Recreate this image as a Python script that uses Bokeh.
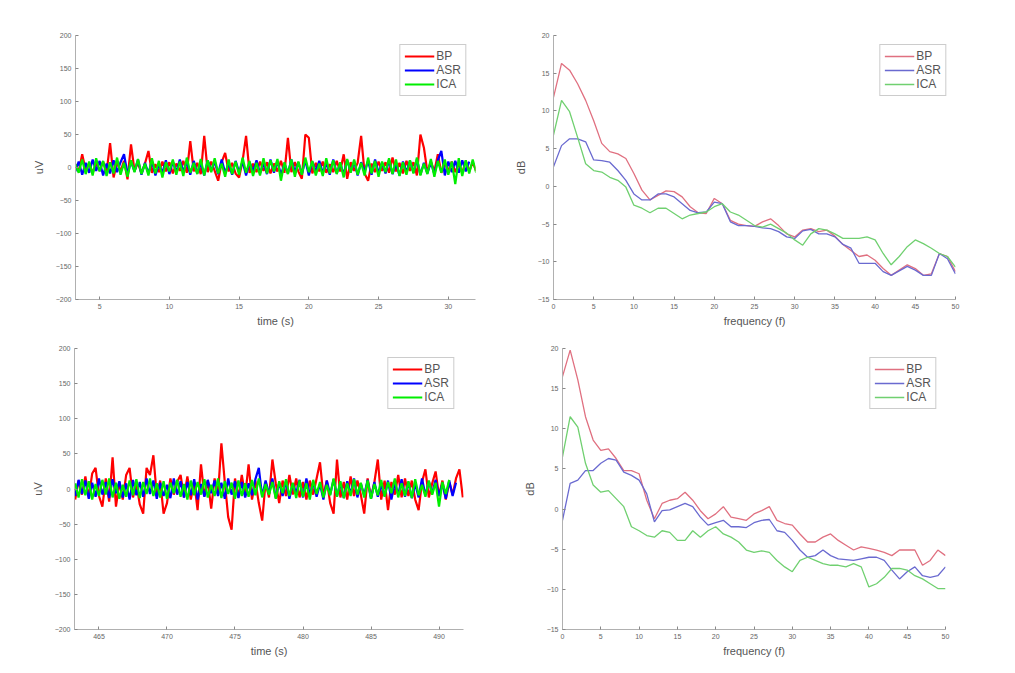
import numpy as np
from bokeh.plotting import figure
from bokeh.layouts import column, row
from bokeh.models import FixedTicker, Range1d, Legend, LegendItem
from bokeh.embed import file_html
from bokeh.resources import INLINE

# ---------------- data ----------------
series_names = ["BP", "ASR", "ICA"]

# top-left time series (uV), sampled every 0.25 s starting at 3.25 s
t1_start = 3.25
t1_step = 0.25
bp_t1 = [5, -6, 20, -4, 7, -8, 6, -5, 9, -7, 37, -15, 8, -6, 10, -18, 35, -5, 7, -9,
         6, 25, -8, 5, -7, 9, -6, 8, -9, 6, -5, 10, -8, 40, -6, 7, -10, 48, -7, 9,
         -5, -20, 8, 22, -6, 7, -9, -15, 10, 48, -8, 6, -7, 9, -5, 8, -9, 6, -6, 10,
         -8, 45, -7, 8, -6, -17, 50, 45, -9, 7, -6, 9, -8, 5, -7, 10, -6, 20, -17, 8,
         -5, 7, 48, -9, -20, 6, -7, 9, -5, 8, -8, 15, -6, 7, -9, 10, -5, 8, -12, 50,
         30, -7, 9, -6, 20, -8, 7, -5, 9, -7, 6, -8, 10, -6, 8, -5]
asr_t1 = [-6, 9, -11, 7, -8, 12, -5, 10, -12, 6, -9, 11, -7, 8, 20, -10, 9, -6, 12, -11,
          7, -9, 10, -12, 5, -8, 11, -10, 9, -7, 12, -6, 8, -11, 10, -9, 7, -12, 11, -5,
          9, -10, 12, -8, 6, -11, 10, -7, 9, -12, 8, -6, 11, -9, 7, -10, 12, -8, 10, -11,
          6, -9, 12, -7, 8, -10, 11, -12, 9, -6, 10, -8, 7, -11, 12, -9, 6, -10, 11, -7,
          9, -12, 8, -6, 10, -11, 12, -8, 7, -9, 11, -10, 6, -12, 9, -7, 10, -8, 12, -11,
          7, -9, 8, -10, 11, 25, -12, 9, -7, 10, -8, 11, -6, 9]
ica_t1 = [5, -8, 12, -10, 9, -12, 14, -6, 10, -13, 8, -9, 15, -11, 7, -14, 11, -7, 13, -10,
          6, -12, 14, -9, 10, -15, 8, -6, 12, -11, 9, -13, 15, -8, 7, -10, 13, -12, 11, -7,
          14, -9, 6, -14, 12, -10, 9, -11, 15, -8, 10, -13, 7, -12, 14, -9, 11, -6, 13, -20,
          8, -10, 12, -14, 9, -11, 15, -7, 10, -12, 6, -13, 14, -9, 11, -10, 8, -15, 13, -8,
          12, -11, 7, -12, 15, -9, 10, -14, 9, -7, 14, -10, 12, -13, 8, -11, 11, -9, 15, -12,
          6, -10, 13, -14, 10, -8, 12, -11, 9, -25, 14, -13, 11, -9, 12, -8]

# bottom-left time series (uV), sampled every 0.25 s starting at 463.25 s
t2_start = 463.25
t2_step = 0.25
bp_t2 = [-15, 12, -8, 18, -12, 22, 30, -10, -25, 15, -18, 45, -25, 10, -15, 20, 30, -12, 8, -22,
         -35, 30, 20, 48, -10, 12, -35, -20, 15, -8, 10, 20, -12, 18, -15, 10, -30, 35, -10, 12,
         -28, 15, -8, 65, 10, -40, -58, 15, -12, 20, -10, 35, -15, 12, -20, -45, 10, -12, 42, 8,
         -20, 12, -10, 20, -8, 15, -12, 10, -15, 12, -8, 15, 38, -10, 12, -20, -35, 42, -12, 10,
         -15, 18, -10, 12, -8, -35, 15, -12, 10, 42, -15, 12, -30, 10, -8, 20, -12, 15, -10, 12,
         -15, -30, 10, 28, -12, 8, 25, -10, 12, -15, 10, -8, 15, 28, -12]
asr_t2 = [-10, 13, -7, 12, -14, 9, -11, 15, -8, 10, -13, 14, -6, 11, -12, 8, -15, 13, -9, 10,
          -11, 15, -7, 12, -14, 9, -10, 6, -13, 15, -8, 11, -12, 10, -9, 14, -15, 7, -11, 13,
          -6, 12, -10, 9, -14, 15, -8, 11, -13, 10, -12, 8, -9, 14, 30, -11, 12, -7, 15, -13,
          9, -10, 11, -14, 8, -6, 13, -12, 15, -9, 10, -11, 7, -15, 12, -8, 14, -10, 9, -13,
          11, -7, 15, -12, 8, -9, 13, -14, 10, -11, 6, -10, 12, -15, 9, -8, 14, -11, 10, -13,
          7, -12, 15, -9, 11, -6, 13, -10, 8, -14, 12, -10, 9]
ica_t2 = [8, -12, 14, -9, 11, -15, 7, -10, 13, -8, 15, -12, 9, -14, 6, -11, 12, -9, 14, -13,
          10, -7, 15, -10, 8, -12, 11, -14, 9, -6, 13, -11, 7, -15, 12, -9, 10, -8, 14, -12,
          6, -10, 15, -13, 11, -7, 9, -14, 12, -10, 8, -11, 13, -9, 15, -12, 7, -8, 10, -14,
          11, -6, 14, -10, 9, -13, 12, -11, 8, -15, 13, -7, 10, -12, 6, -9, 15, -11, 11, -13,
          8, -10, 14, -8, 9, -12, 12, -14, 7, -9, 13, -11, 10, -6, 15, -12, 8, -10, 11, -13,
          14, -9, 6, -11, 12, -8, 9, -25, 10, -7, 13]

# spectra (dB) at 0..50 Hz, 1 Hz steps
freq = list(range(0, 51))
bp_s1 = [11.8, 16.3, 15.4, 13.6, 11.4, 8.7, 5.7, 4.6, 4.3, 3.7, 1.7, -0.5, -1.8, -1.2, -0.6, -0.7, -1.4,
         -2.7, -3.5, -3.6, -1.6, -2.3, -4.5, -5.0, -5.2, -5.3, -4.7, -4.3, -5.2, -6.3, -6.7, -5.8,
         -5.6, -6.0, -5.8, -6.6, -7.7, -8.5, -9.3, -9.1, -9.8, -10.9, -11.8, -11.1, -10.4, -10.9,
         -11.8, -11.6, -8.9, -9.3, -11.3]
asr_s1 = [2.6, 5.4, 6.3, 6.3, 5.9, 3.5, 3.4, 3.2, 2.1, 0.8, -1.0, -1.8, -1.8, -1.0, -1.0, -1.4, -2.3,
          -3.2, -3.5, -3.4, -2.1, -2.3, -4.7, -5.2, -5.2, -5.3, -5.5, -5.6, -6.0, -6.7, -6.9, -5.9,
          -5.7, -6.3, -6.3, -6.7, -7.7, -8.2, -10.2, -10.2, -10.2, -11.3, -11.8, -11.2, -10.6,
          -11.1, -11.8, -11.8, -8.9, -9.6, -11.6]
ica_s1 = [6.8, 11.4, 9.9, 6.5, 3.0, 2.1, 1.9, 1.2, 0.8, -0.1, -2.5, -2.9, -3.5, -2.9, -2.9, -3.6, -4.3,
          -3.8, -3.6, -3.4, -2.7, -2.3, -3.4, -3.8, -4.5, -5.2, -5.4, -5.0, -5.6, -6.2, -7.1, -7.8,
          -6.3, -5.6, -5.8, -6.3, -6.9, -6.9, -6.9, -6.7, -7.1, -8.9, -10.4, -9.3, -8.0, -7.1,
          -7.6, -8.2, -8.9, -9.3, -10.7]
bp_s2 = [16.5, 19.8, 16.1, 11.5, 8.6, 7.3, 7.5, 6.3, 4.8, 4.8, 4.4, 1.1, -1.2, 0.7, 1.1, 1.3, 2.1,
         1.1, -0.2, -1.2, -0.6, 0.3, -1.0, -1.2, -1.4, -0.6, -0.2, 0.3, -1.4, -1.8, -2.0, -3.1,
         -4.1, -4.1, -3.5, -3.1, -3.9, -4.5, -5.1, -4.7, -4.9, -5.1, -5.4, -5.8, -5.1, -5.1,
         -5.1, -7.0, -6.4, -5.1, -5.8]
asr_s2 = [-1.4, 3.2, 3.6, 4.8, 4.8, 5.7, 6.3, 6.1, 4.6, 4.2, 3.6, 1.9, -1.6, -0.2, -0.1, 0.3, 0.7,
          0.3, -1.0, -2.0, -1.7, -1.4, -2.2, -2.2, -2.3, -1.7, -1.4, -1.3, -2.7, -2.9, -3.9, -5.1,
          -6.0, -5.8, -5.1, -5.8, -6.2, -6.3, -6.4, -6.2, -6.0, -6.0, -6.4, -7.6, -8.7, -7.8,
          -7.2, -8.3, -8.5, -8.3, -7.2]
ica_s2 = [6.5, 11.5, 10.2, 5.7, 3.0, 2.1, 2.3, 1.3, 0.3, -2.2, -2.7, -3.3, -3.5, -2.7, -2.9, -3.9,
          -3.9, -2.7, -3.5, -2.7, -2.2, -3.1, -3.5, -4.1, -5.1, -5.4, -5.2, -5.4, -6.4, -7.2, -7.8,
          -6.4, -6.0, -6.4, -6.8, -7.0, -7.0, -7.2, -6.8, -7.2, -9.7, -9.3, -8.5, -7.4, -7.4,
          -7.6, -8.3, -8.7, -9.3, -9.9, -9.9]

uv_ticks = [-200, -150, -100, -50, 0, 50, 100, 150, 200]
t1_ticks = [5, 10, 15, 20, 25, 30]
t2_ticks = [465, 470, 475, 480, 485, 490]
db_ticks = [-15, -10, -5, 0, 5, 10, 15, 20]
f_ticks = [0, 5, 10, 15, 20, 25, 30, 35, 40, 45, 50]

# ---------------- style ----------------
FONT = "Liberation Sans"
TS_COLORS = ["#ff0000", "#0000ff", "#00ee00"]
SP_COLORS = ["#e07080", "#6a6ad0", "#70d070"]


def make_fig(width, height, borders, xr, yr, xticks, yticks, xlabel, ylabel):
    left, right, top, bottom = borders
    p = figure(width=width, height=height, output_backend="svg", toolbar_location=None,
               x_range=Range1d(*xr), y_range=Range1d(*yr),
               min_border_left=left, min_border_right=right,
               min_border_top=top, min_border_bottom=bottom)
    p.outline_line_color = None
    p.xgrid.visible = False
    p.ygrid.visible = False
    p.background_fill_color = "white"
    p.border_fill_color = "white"
    for ax, ticks, lab in ((p.xaxis[0], xticks, xlabel), (p.yaxis[0], yticks, ylabel)):
        ax.ticker = FixedTicker(ticks=ticks)
        ax.minor_tick_line_color = None
        ax.major_tick_in = 3
        ax.major_tick_out = 0
        ax.axis_line_color = "#b0b0b0"
        ax.major_tick_line_color = "#888888"
        ax.major_label_text_font = FONT
        ax.major_label_text_font_size = "7px"
        ax.major_label_text_color = "#666666"
        ax.axis_label = lab
        ax.axis_label_text_font = FONT
        ax.axis_label_text_font_size = "11px"
        ax.axis_label_text_font_style = "normal"
        ax.axis_label_text_color = "#555555"
    p.xaxis.major_label_standoff = 4
    p.yaxis.major_label_standoff = 4
    p.xaxis.axis_label_standoff = 3
    p.yaxis.axis_label_standoff = 8
    return p


def add_legend(p, renderers):
    items = [LegendItem(label=n, renderers=[r]) for n, r in zip(series_names, renderers)]
    leg = Legend(items=items, location="top_right")
    leg.margin = 9
    leg.padding = 4
    leg.spacing = 0
    leg.label_text_font = FONT
    leg.label_text_font_size = "12px"
    leg.label_text_color = "#555555"
    leg.label_height = 14
    leg.glyph_height = 14
    leg.glyph_width = 30
    leg.label_standoff = 2
    leg.border_line_color = "#999999"
    leg.border_line_width = 1
    leg.background_fill_alpha = 1.0
    p.add_layout(leg, "center")


def ts_panel(p, start, step, series):
    rs = []
    for vals, c in zip(series, TS_COLORS):
        t = start + step * np.arange(len(vals))
        rs.append(p.line(t, vals, line_color=c, line_width=2.2))
    add_legend(p, rs)


def sp_panel(p, series):
    rs = []
    for vals, c in zip(series, SP_COLORS):
        rs.append(p.line(freq, vals, line_color=c, line_width=1.3))
    add_legend(p, rs)


pA = make_fig(500, 340, (75, 25, 35, 40), (3.27, 31.95), (-200, 200), t1_ticks, uv_ticks,
              "time (s)", "uV")
ts_panel(pA, t1_start, t1_step, [bp_t1, asr_t1, ica_t1])

pB = make_fig(515, 340, (53, 60, 35, 41), (0, 50), (-15, 20), f_ticks, db_ticks,
              "frequency (f)", "dB")
sp_panel(pB, [bp_s1, asr_s1, ica_s1])

pC = make_fig(500, 333, (74, 37, 5, 44), (463.2, 491.8), (-200, 200), t2_ticks, uv_ticks,
              "time (s)", "uV")
ts_panel(pC, t2_start, t2_step, [bp_t2, asr_t2, ica_t2])

pD = make_fig(515, 333, (62, 70, 8, 44), (0, 50), (-15, 20), f_ticks, db_ticks,
              "frequency (f)", "dB")
sp_panel(pD, [bp_s2, asr_s2, ica_s2])

layout = column(row(pA, pB), row(pC, pD))
open("out.html", "w").write(file_html(layout, INLINE))
